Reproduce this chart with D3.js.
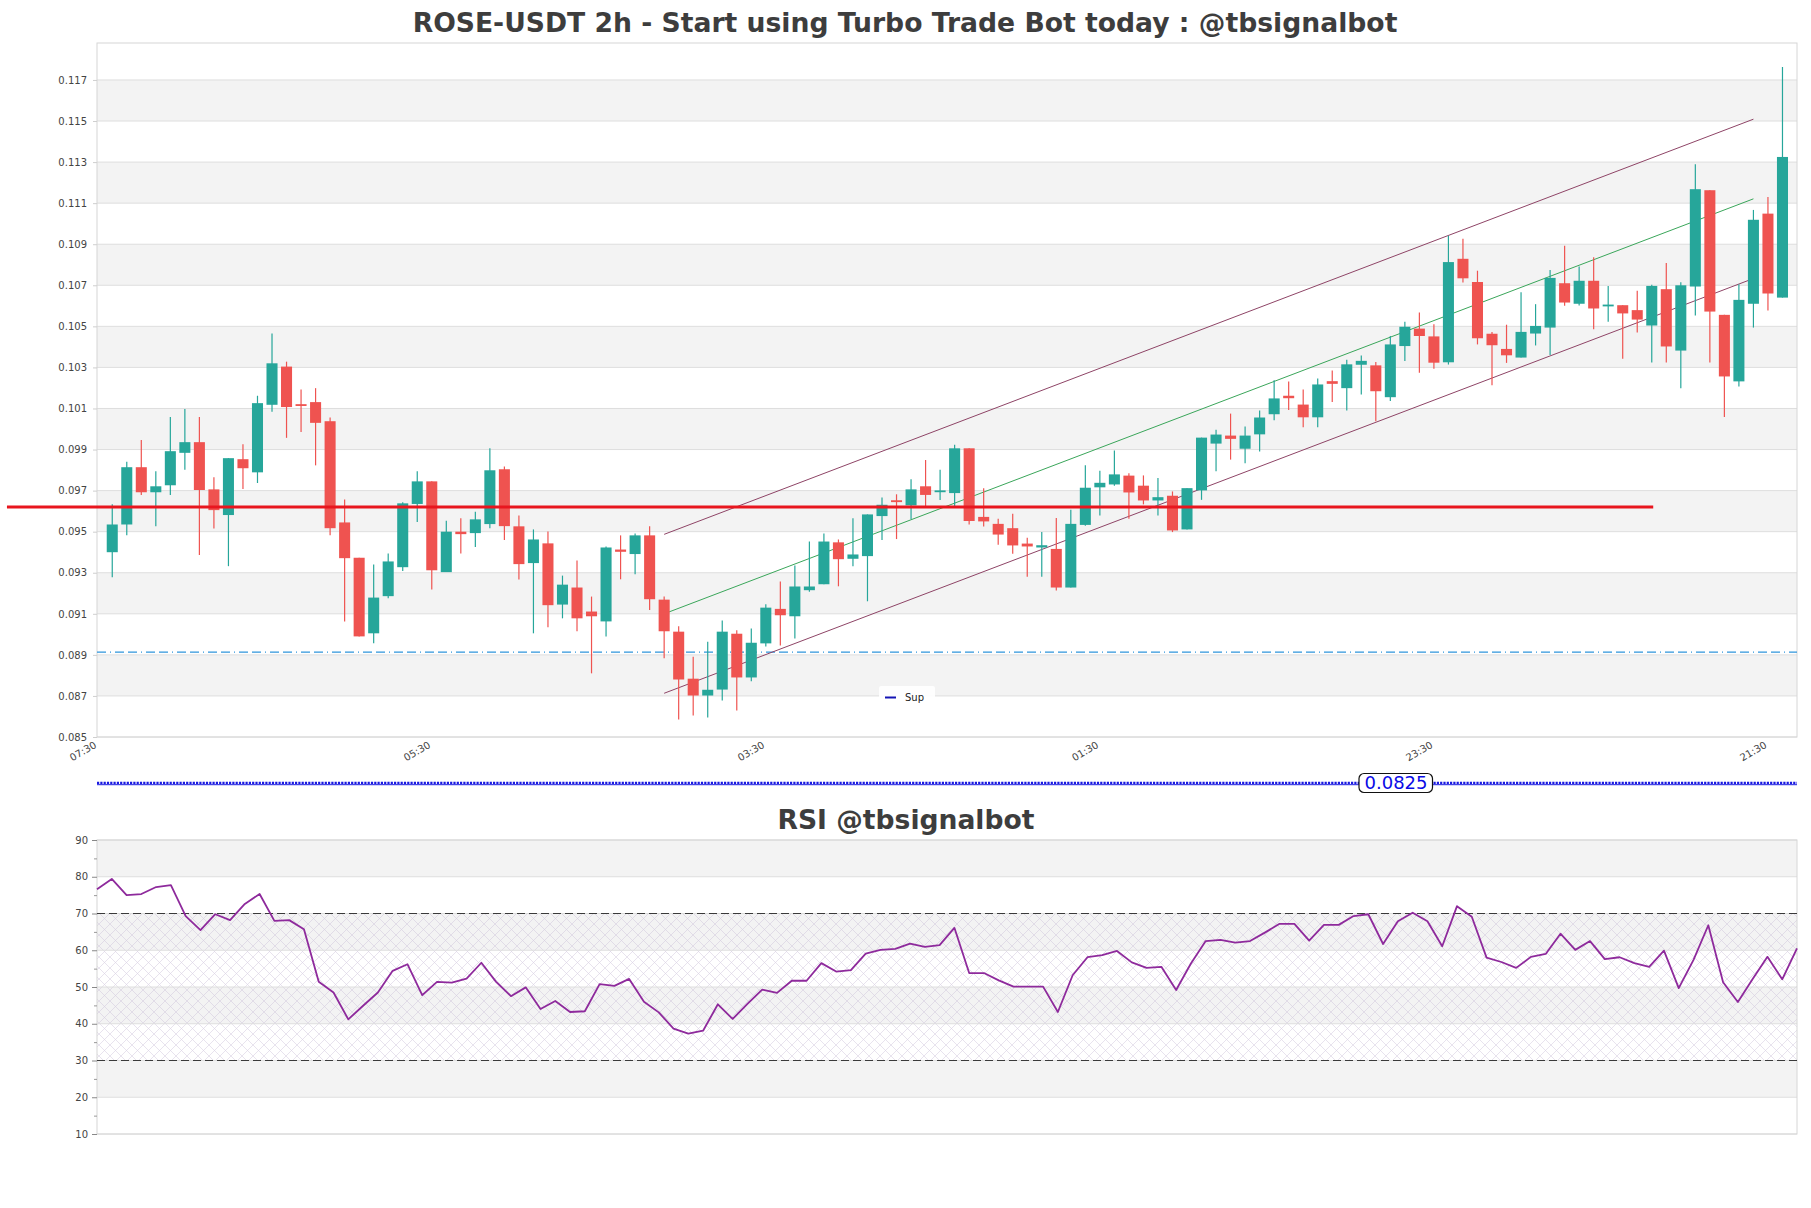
<!DOCTYPE html>
<html><head><meta charset="utf-8">
<script src="https://cdn.jsdelivr.net/npm/d3@7"></script>
<style>
body{margin:0;background:#fff;}
svg{display:block;font-family:"DejaVu Sans",sans-serif;}
</style>
</head><body>
<svg id="chart" width="1811" height="1208"></svg>
<script>
// ---------------- DATA ----------------
const candleOpen = [0.09400,0.09535,0.09814,0.09692,0.09726,0.09884,0.09936,0.09706,0.09581,0.09853,
0.09789,0.10118,0.10304,0.10121,0.10131,0.10038,0.09545,0.09373,0.09005,0.09186,
0.09327,0.09635,0.09745,0.09303,0.09500,0.09493,0.09537,0.09804,0.09526,0.09347,
0.09443,0.09145,0.09228,0.09111,0.09063,0.09413,0.09391,0.09482,0.09169,0.09013,
0.08784,0.08702,0.08731,0.09003,0.08790,0.08956,0.09124,0.09088,0.09215,0.09244,
0.09448,0.09368,0.09381,0.09576,0.09653,0.09628,0.09721,0.09693,0.09688,0.09906,
0.09572,0.09538,0.09517,0.09442,0.09423,0.09416,0.09228,0.09533,0.09716,0.09730,
0.09773,0.09724,0.09652,0.09675,0.09511,0.09701,0.09929,0.09968,0.09904,0.09974,
0.10072,0.10162,0.10119,0.10057,0.10233,0.10199,0.10313,0.10310,0.10155,0.10404,
0.10489,0.10451,0.10325,0.10829,0.10716,0.10464,0.10390,0.10348,0.10465,0.10494,
0.10710,0.10610,0.10722,0.10603,0.10603,0.10579,0.10504,0.10681,0.10382,0.10694,
0.11163,0.10556,0.10232,0.10610,0.11049,0.10640];
const candleHigh = [0.09633,0.09840,0.09947,0.09794,0.10059,0.10097,0.10059,0.09765,0.09858,0.09926,
0.10162,0.10465,0.10328,0.10192,0.10199,0.10056,0.09657,0.09373,0.09340,0.09394,
0.09643,0.09794,0.09745,0.09553,0.09565,0.09597,0.09906,0.09817,0.09579,0.09511,
0.09501,0.09286,0.09360,0.09184,0.09428,0.09482,0.09491,0.09526,0.09184,0.09039,
0.08891,0.08964,0.09068,0.09020,0.09029,0.09146,0.09257,0.09335,0.09452,0.09491,
0.09462,0.09565,0.09584,0.09667,0.09682,0.09755,0.09849,0.09801,0.09923,0.09906,
0.09712,0.09563,0.09587,0.09470,0.09498,0.09566,0.09607,0.09823,0.09797,0.09895,
0.09784,0.09774,0.09761,0.09696,0.09712,0.09958,0.09997,0.10075,0.10012,0.10090,
0.10238,0.10232,0.10192,0.10246,0.10285,0.10337,0.10358,0.10326,0.10453,0.10523,
0.10567,0.10510,0.10941,0.10927,0.10771,0.10472,0.10508,0.10666,0.10608,0.10775,
0.10892,0.10791,0.10837,0.10697,0.10603,0.10673,0.10702,0.10808,0.10715,0.11290,
0.11163,0.10556,0.10705,0.11067,0.11130,0.11763];
const candleLow = [0.09278,0.09483,0.09679,0.09527,0.09679,0.09801,0.09386,0.09516,0.09332,0.09708,
0.09737,0.10084,0.09957,0.09986,0.09823,0.09483,0.09063,0.08990,0.08956,0.09176,
0.09308,0.09547,0.09218,0.09303,0.09394,0.09425,0.09517,0.09459,0.09267,0.09005,
0.09034,0.09078,0.09015,0.08810,0.08990,0.09268,0.09293,0.09119,0.08883,0.08585,
0.08605,0.08595,0.08678,0.08629,0.08771,0.08941,0.08946,0.08980,0.09208,0.09244,
0.09234,0.09332,0.09161,0.09459,0.09464,0.09560,0.09625,0.09654,0.09625,0.09535,
0.09525,0.09436,0.09393,0.09281,0.09281,0.09213,0.09228,0.09529,0.09579,0.09724,
0.09563,0.09633,0.09579,0.09498,0.09511,0.09655,0.09794,0.09851,0.09833,0.09891,
0.10043,0.10092,0.10009,0.10009,0.10131,0.10090,0.10168,0.10038,0.10136,0.10331,
0.10274,0.10293,0.10314,0.10714,0.10412,0.10213,0.10322,0.10348,0.10407,0.10361,
0.10600,0.10601,0.10486,0.10522,0.10342,0.10470,0.10324,0.10324,0.10199,0.10553,
0.10324,0.10058,0.10207,0.10494,0.10577,0.10640];
const candleClose = [0.09535,0.09814,0.09692,0.09721,0.09892,0.09936,0.09703,0.09605,0.09858,0.09809,
0.10126,0.10320,0.10107,0.10113,0.10030,0.09517,0.09371,0.08990,0.09179,0.09355,
0.09638,0.09745,0.09312,0.09500,0.09488,0.09560,0.09799,0.09527,0.09342,0.09462,
0.09142,0.09242,0.09078,0.09088,0.09423,0.09402,0.09482,0.09171,0.09015,0.08780,
0.08702,0.08730,0.09013,0.08790,0.08959,0.09130,0.09093,0.09233,0.09233,0.09452,
0.09366,0.09389,0.09584,0.09631,0.09644,0.09706,0.09679,0.09701,0.09906,0.09552,
0.09550,0.09486,0.09433,0.09428,0.09434,0.09228,0.09538,0.09714,0.09738,0.09779,
0.09691,0.09652,0.09668,0.09506,0.09712,0.09958,0.09973,0.09952,0.09968,0.10056,
0.10149,0.10150,0.10057,0.10217,0.10220,0.10315,0.10332,0.10184,0.10412,0.10498,
0.10453,0.10323,0.10813,0.10734,0.10442,0.10408,0.10359,0.10473,0.10502,0.10736,
0.10616,0.10722,0.10587,0.10606,0.10563,0.10533,0.10697,0.10402,0.10700,0.11168,
0.10572,0.10256,0.10629,0.11019,0.10660,0.11325];

const rsiValues = [76.6,79.4,75.0,75.3,77.2,77.7,69.3,65.5,69.8,68.2,
72.6,75.3,68.0,68.2,65.7,51.4,48.5,41.2,44.9,48.5,
54.4,56.2,47.8,51.4,51.2,52.3,56.6,51.4,47.5,49.9,
44.0,46.2,43.2,43.4,50.8,50.3,52.2,46.0,43.1,38.7,
37.3,38.1,45.3,41.3,45.4,49.3,48.4,51.7,51.7,56.5,
54.2,54.6,59.1,60.1,60.4,61.8,60.9,61.4,66.1,53.8,
53.8,51.8,50.1,50.1,50.1,43.2,53.2,58.1,58.7,59.8,
56.7,55.2,55.5,49.2,56.4,62.5,62.8,62.1,62.5,64.8,
67.2,67.2,62.6,66.9,66.9,69.3,69.8,61.7,67.9,70.2,
67.9,61.1,72.0,69.1,58.0,56.8,55.2,58.2,59.0,64.5,
60.1,62.5,57.6,58.1,56.5,55.5,59.9,49.7,57.4,66.8,
51.3,45.9,52.2,58.2,52.1,60.5];

const priceTicks = [0.085,0.087,0.089,0.091,0.093,0.095,0.097,0.099,0.101,0.103,0.105,0.107,0.109,0.111,0.113,0.115,0.117];
const rsiTicks = [10,20,30,40,50,60,70,80,90];
const rsiMinorTicks = [15,25,35,45,55,65,75,85];
const rsiLevels = [70,30];
const timeTickIndex = [-1,22,45,68,91,114];
const timeTickLabels = ["07:30","05:30","03:30","01:30","23:30","21:30"];

const channelIndex = [38,113];
const channelUpper = [0.09487,0.11509];
const channelMiddle = [0.09100,0.11121];
const channelLower = [0.08713,0.10733];

const resistanceLevel = 0.0962;
const resistanceSpan = [-7.25,106.1];
const supportLevel = 0.08913;
const legendLabels = ["Sup"];
const markerLabel = "0.0825";

const titleMain = "ROSE-USDT 2h - Start using Turbo Trade Bot today : @tbsignalbot";
const titleRsi = "RSI @tbsignalbot";

// ---------------- LAYOUT ----------------
const W = 1811, H = 1208;
const main = {l:97, r:1797, t:43, b:737};
const rsiP = {l:97, r:1797, t:840, b:1134};
const GREEN = "#26a69a", RED = "#ef5350";
const BAND = "#f3f3f3", GRID = "#dedede", FRAME = "#d6d6d6";

const svg = d3.select("#chart");
svg.append("rect").attr("width",W).attr("height",H).attr("fill","#fff");

const defs = svg.append("defs");
const pat = defs.append("pattern").attr("id","hatch").attr("width",11).attr("height",11)
  .attr("patternUnits","userSpaceOnUse");
pat.append("path").attr("d","M0,0 L11,11 M11,0 L0,11 M-1,10 L1,12 M10,-1 L12,1")
  .attr("stroke","#c8bcd6").attr("stroke-width",0.6).attr("fill","none");

// fit title text to width
function fitTitle(text, cx, baseline, targetW){
  const t = svg.append("text").text(text).attr("x",cx).attr("y",baseline)
    .attr("text-anchor","middle").attr("font-weight","bold").attr("fill","#3d3d3d")
    .attr("font-size",100);
  const w = t.node().getComputedTextLength();
  t.attr("font-size", 100*targetW/w);
  return t;
}
fitTitle(titleMain, 905, 32, 985);
fitTitle(titleRsi, 906, 829, 257);

// ---------------- MAIN CHART ----------------
const x = d3.scaleLinear().domain([-1.05,116.0]).range([main.l,main.r]);
const y = d3.scaleLinear().domain([0.085,0.1188]).range([main.b,main.t]);

const gm = svg.append("g");
// bands
const bands = [];
for(let k=1;k<priceTicks.length-1;k+=2) bands.push([priceTicks[k],priceTicks[k+1]]);
gm.selectAll("rect.band").data(bands).join("rect").attr("class","band")
  .attr("x",main.l).attr("width",main.r-main.l)
  .attr("y",d=>y(d[1])).attr("height",d=>y(d[0])-y(d[1])).attr("fill",BAND);
// grid
gm.selectAll("line.grid").data(priceTicks).join("line").attr("class","grid")
  .attr("x1",main.l).attr("x2",main.r).attr("y1",d=>y(d)).attr("y2",d=>y(d))
  .attr("stroke",GRID).attr("stroke-width",1);
// frame
gm.append("rect").attr("x",main.l).attr("y",main.t).attr("width",main.r-main.l).attr("height",main.b-main.t)
  .attr("fill","none").attr("stroke",FRAME).attr("stroke-width",1);

// y axis
const yAxis = gm.append("g").attr("transform",`translate(${main.l},0)`)
  .call(d3.axisLeft(y).tickValues(priceTicks).tickFormat(d3.format(".3f")).tickSizeInner(4).tickSizeOuter(0).tickPadding(6));
yAxis.select(".domain").remove();
yAxis.selectAll(".tick line").attr("stroke","#cfcfcf");
yAxis.selectAll(".tick text").attr("font-size",10).attr("fill","#444").attr("font-family","DejaVu Sans");

// x axis
const xAxis = gm.append("g").attr("transform",`translate(0,${main.b})`)
  .call(d3.axisBottom(x).tickValues(timeTickIndex).tickFormat((d,k)=>timeTickLabels[k]).tickSize(0));
xAxis.select(".domain").remove();
xAxis.selectAll(".tick text").attr("font-size",10).attr("fill","#444").attr("font-family","DejaVu Sans")
  .attr("text-anchor","end").attr("x",-1).attr("y",10).attr("dy",0)
  .attr("transform","rotate(-30,-1,10)");

// support dashed line
gm.append("line").attr("x1",x(x.domain()[0])).attr("x2",x(x.domain()[1]))
  .attr("y1",y(supportLevel)).attr("y2",y(supportLevel))
  .attr("stroke","#2f95dc").attr("stroke-width",1.3).attr("stroke-dasharray","9,4,1,4,9,4");

// channel lines
function chan(vals,color){
  gm.append("line").attr("x1",x(channelIndex[0])).attr("x2",x(channelIndex[1]))
    .attr("y1",y(vals[0])).attr("y2",y(vals[1])).attr("stroke",color).attr("stroke-width",1);
}
chan(channelUpper,"#8e4466");
chan(channelLower,"#8e4466");
chan(channelMiddle,"#3aa65a");

// candles
const candles = candleOpen.map((o,i)=>({i,o,h:candleHigh[i],l:candleLow[i],c:candleClose[i]}));
const bw = (x(1)-x(0))*0.76;
gm.selectAll("line.wick").data(candles).join("line").attr("class","wick")
  .attr("x1",d=>x(d.i)).attr("x2",d=>x(d.i)).attr("y1",d=>y(d.h)).attr("y2",d=>y(d.l))
  .attr("stroke",d=>d.c>=d.o?GREEN:RED).attr("stroke-width",1.2);
gm.selectAll("rect.body").data(candles).join("rect").attr("class","body")
  .attr("x",d=>x(d.i)-bw/2).attr("width",bw)
  .attr("y",d=>y(Math.max(d.o,d.c))).attr("height",d=>Math.max(1.8,Math.abs(y(d.o)-y(d.c))))
  .attr("fill",d=>d.c>=d.o?GREEN:RED);

// resistance red line
gm.append("line").attr("x1",x(resistanceSpan[0])).attr("x2",x(resistanceSpan[1]))
  .attr("y1",y(resistanceLevel)).attr("y2",y(resistanceLevel))
  .attr("stroke","#e8161e").attr("stroke-width",3);

// legend
const lg = gm.append("g").attr("transform","translate(879,686)");
lg.append("rect").attr("width",56).attr("height",18).attr("rx",2).attr("fill","#fff").attr("fill-opacity",0.9);
lg.append("line").attr("x1",6).attr("x2",17).attr("y1",11.5).attr("y2",11.5).attr("stroke","#1414b4").attr("stroke-width",2);
lg.append("text").text(legendLabels[0]).attr("x",26).attr("y",14.5).attr("font-size",10).attr("fill","#222");

// blue dotted separator + marker box
const sepY = 783.5;
svg.append("line").attr("x1",main.l).attr("x2",main.r).attr("y1",sepY+1.2).attr("y2",sepY+1.2)
  .attr("stroke","#1a1ae0").attr("stroke-width",1);
svg.append("line").attr("x1",main.l).attr("x2",main.r).attr("y1",sepY-0.6).attr("y2",sepY-0.6)
  .attr("stroke","#1a1ae0").attr("stroke-width",2.2).attr("stroke-dasharray","2.2,1.1");
const mb = svg.append("g").attr("transform","translate(1359,773.5)");
mb.append("rect").attr("width",73.5).attr("height",19).attr("rx",5).attr("fill","#fff").attr("stroke","#111").attr("stroke-width",1.2);
mb.append("text").text(markerLabel).attr("x",37).attr("y",15.5).attr("text-anchor","middle")
  .attr("font-size",18).attr("fill","#0a0ae6");

// ---------------- RSI CHART ----------------
const rx = d3.scaleLinear().domain([0,rsiValues.length-1]).range([rsiP.l,rsiP.r]);
const ry = d3.scaleLinear().domain([10,90]).range([rsiP.b,rsiP.t]);
const gr = svg.append("g");
const rBands = [[80,90],[60,70],[40,50],[20,30]];
gr.selectAll("rect.band").data(rBands).join("rect").attr("class","band")
  .attr("x",rsiP.l).attr("width",rsiP.r-rsiP.l)
  .attr("y",d=>ry(d[1])).attr("height",d=>ry(d[0])-ry(d[1])).attr("fill",BAND);
gr.append("rect").attr("x",rsiP.l).attr("width",rsiP.r-rsiP.l)
  .attr("y",ry(rsiLevels[0])).attr("height",ry(rsiLevels[1])-ry(rsiLevels[0]))
  .attr("fill","url(#hatch)").attr("opacity",0.7);
gr.selectAll("line.grid").data(rsiTicks).join("line").attr("class","grid")
  .attr("x1",rsiP.l).attr("x2",rsiP.r).attr("y1",d=>ry(d)).attr("y2",d=>ry(d))
  .attr("stroke",GRID).attr("stroke-width",1);
gr.append("rect").attr("x",rsiP.l).attr("y",rsiP.t).attr("width",rsiP.r-rsiP.l).attr("height",rsiP.b-rsiP.t)
  .attr("fill","none").attr("stroke",FRAME).attr("stroke-width",1);

const ryAxis = gr.append("g").attr("transform",`translate(${rsiP.l},0)`)
  .call(d3.axisLeft(ry).tickValues(rsiTicks).tickFormat(d3.format("d")).tickSizeInner(5).tickSizeOuter(0).tickPadding(4));
ryAxis.select(".domain").remove();
ryAxis.selectAll(".tick line").attr("stroke","#888");
ryAxis.selectAll(".tick text").attr("font-size",10).attr("fill","#444").attr("font-family","DejaVu Sans");
const ryMinor = gr.append("g").attr("transform",`translate(${rsiP.l},0)`)
  .call(d3.axisLeft(ry).tickValues(rsiMinorTicks).tickFormat("").tickSizeInner(3).tickSizeOuter(0));
ryMinor.select(".domain").remove();
ryMinor.selectAll(".tick line").attr("stroke","#999");

gr.selectAll("line.level").data(rsiLevels).join("line").attr("class","level")
  .attr("x1",rsiP.l).attr("x2",rsiP.r).attr("y1",d=>ry(d)).attr("y2",d=>ry(d))
  .attr("stroke","#3a3a3a").attr("stroke-width",1.2).attr("stroke-dasharray","8,4");

gr.append("path").datum(rsiValues)
  .attr("d",d3.line().x((d,i)=>rx(i)).y(d=>ry(d)))
  .attr("fill","none").attr("stroke","#8e2a9c").attr("stroke-width",1.8).attr("stroke-linejoin","round");
</script>
</body></html>
